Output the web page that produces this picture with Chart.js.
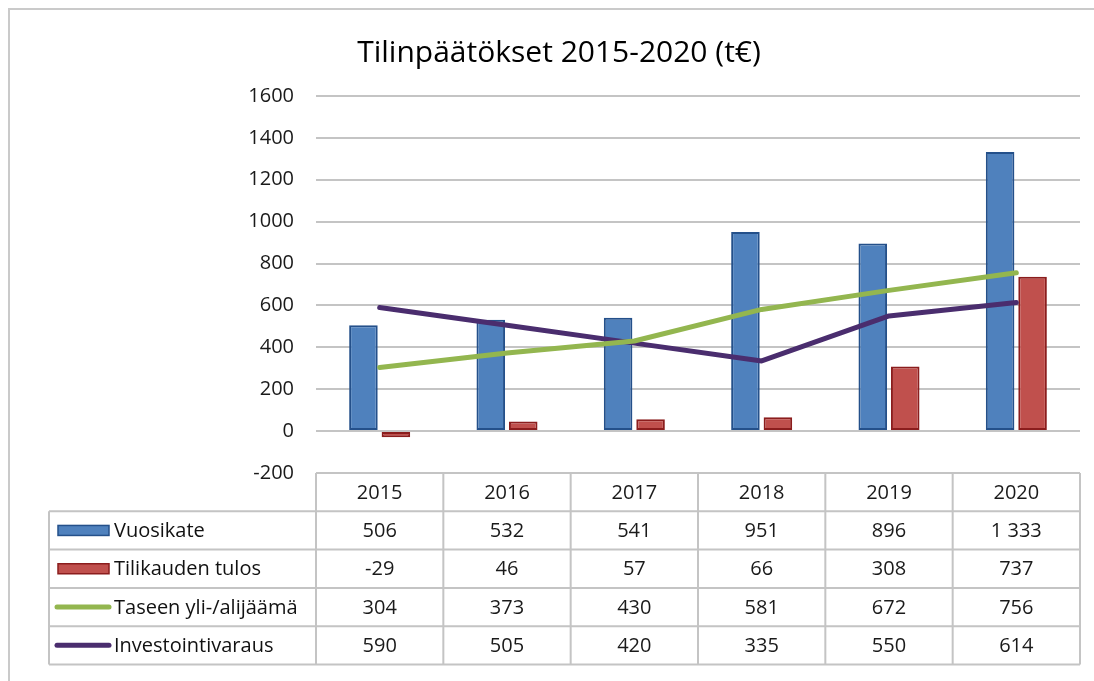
<!DOCTYPE html>
<html>
<head>
<meta charset="utf-8">
<title>Tilinpäätökset 2015-2020</title>
<script src="https://cdn.jsdelivr.net/npm/chart.js@4.4.1/dist/chart.umd.min.js"></script>
<style>
  html, body { margin: 0; padding: 0; background: #fff; }
  #wrap { width: 1094px; height: 681px; position: relative; }
</style>
</head>
<body>
<div id="wrap"><canvas id="chart" width="1094" height="681"></canvas></div>
<script>
// --- Datos del gráfico ---
const years = ['2015', '2016', '2017', '2018', '2019', '2020'];
const vuosikate = [506, 532, 541, 951, 896, 1333];
const tilikaudenTulos = [-29, 46, 57, 66, 308, 737];
const taseenYlijaama = [304, 373, 430, 581, 672, 756];
const investointivaraus = [590, 505, 420, 335, 550, 614];
const yTicks = [-200, 0, 200, 400, 600, 800, 1000, 1200, 1400, 1600];

const chartTitle = 'Tilinpäätökset 2015-2020 (t€)';
const FONT = '"Open Sans", "Noto Sans", sans-serif';
const GRID = '#c4c4c4';

const series = [
  { label: 'Vuosikate', data: vuosikate, kind: 'bar', color: '#4f81bd', border: '#24508a' },
  { label: 'Tilikauden tulos', data: tilikaudenTulos, kind: 'bar', color: '#c0504d', border: '#8b1d1d' },
  { label: 'Taseen yli-/alijäämä', data: taseenYlijaama, kind: 'line', color: '#93b64f' },
  { label: 'Investointivaraus', data: investointivaraus, kind: 'line', color: '#4a2d6e' }
];

// formato finlandés: espacio como separador de miles
function fmt(v){
  return String(v).replace(/\B(?=(\d{3})+(?!\d))/g, ' ');
}

// -------------------- Plugin: marco, título y tabla de datos --------------------
const tablePlugin = {
  id: 'dataTable',
  beforeDraw(chart){
    const ctx = chart.ctx;
    ctx.save();
    ctx.fillStyle = '#fff';
    ctx.fillRect(0, 0, chart.width, chart.height);
    // marco exterior
    ctx.strokeStyle = '#cacaca';
    ctx.lineWidth = 2;
    ctx.beginPath();
    ctx.moveTo(9, chart.height + 5);
    ctx.lineTo(9, 9);
    ctx.lineTo(chart.width + 5, 9);
    ctx.stroke();
    ctx.restore();
  },
  afterDraw(chart){
    const ctx = chart.ctx;
    const area = chart.chartArea;
    const x = chart.scales.x;
    const colW = (area.right - area.left) / years.length;
    const rowH = 38.3;
    const top = area.bottom;
    const left = 49;
    const bottom = top + rowH * (series.length + 1);

    ctx.save();
    // título
    ctx.fillStyle = '#000';
    ctx.font = '30px ' + FONT;
    ctx.textAlign = 'center';
    ctx.textBaseline = 'alphabetic';
    ctx.fillText(chartTitle, 559, 62);

    // líneas de la tabla
    ctx.strokeStyle = GRID;
    ctx.lineWidth = 2;
    ctx.beginPath();
    ctx.moveTo(area.left, top); ctx.lineTo(area.right, top);
    for (let r = 1; r <= series.length + 1; r++) {
      const yy = top + rowH * r;
      ctx.moveTo(left, yy); ctx.lineTo(area.right, yy);
    }
    for (let c = 0; c <= years.length; c++) {
      const xx = area.left + colW * c;
      ctx.moveTo(xx, top); ctx.lineTo(xx, bottom);
    }
    ctx.moveTo(left, top + rowH); ctx.lineTo(left, bottom);
    ctx.stroke();

    // cabecera con años
    ctx.font = '20px ' + FONT;
    ctx.fillStyle = '#1a1a1a';
    ctx.textAlign = 'center';
    ctx.textBaseline = 'middle';
    years.forEach((yr, i) => {
      ctx.fillText(yr, x.getPixelForValue(i), top + rowH / 2 + 1);
    });

    // filas: clave de leyenda, nombre y valores
    series.forEach((s, r) => {
      const cy = top + rowH * (r + 1) + rowH / 2;
      if (s.kind === 'bar') {
        ctx.fillStyle = s.color;
        ctx.strokeStyle = s.border;
        ctx.lineWidth = 1.5;
        ctx.fillRect(58, cy - 5, 51, 10);
        ctx.strokeRect(58, cy - 5, 51, 10);
      } else {
        ctx.strokeStyle = s.color;
        ctx.lineWidth = 5;
        ctx.lineCap = 'round';
        ctx.beginPath();
        ctx.moveTo(57, cy); ctx.lineTo(109, cy);
        ctx.stroke();
      }
      ctx.fillStyle = '#111';
      ctx.textAlign = 'left';
      ctx.fillText(s.label, 114, cy + 1);
      ctx.textAlign = 'center';
      ctx.fillStyle = '#1a1a1a';
      s.data.forEach((v, i) => {
        ctx.fillText(fmt(v), x.getPixelForValue(i), cy + 1);
      });
    });
    ctx.restore();
  }
};

// -------------------- Chart.js --------------------
const datasets = series.map(s => {
  if (s.kind === 'bar') {
    return {
      type: 'bar',
      label: s.label,
      data: s.data,
      backgroundColor: s.color,
      borderColor: s.border,
      borderWidth: 2,
      borderSkipped: false,
      categoryPercentage: 0.51,
      barPercentage: 0.88,
      order: 2
    };
  }
  return {
    type: 'line',
    label: s.label,
    data: s.data,
    borderColor: s.color,
    borderWidth: 5,
    borderCapStyle: 'round',
    borderJoinStyle: 'round',
    pointRadius: 0,
    tension: 0,
    fill: false,
    order: 1
  };
});

new Chart(document.getElementById('chart'), {
  type: 'bar',
  data: { labels: years, datasets },
  options: {
    responsive: false,
    animation: false,
    layout: { padding: { left: 0, right: 14, top: 96, bottom: 208 } },
    plugins: {
      legend: { display: false },
      title: { display: false },
      tooltip: { enabled: false }
    },
    scales: {
      x: { display: false },
      y: {
        min: yTicks[0],
        max: yTicks[yTicks.length - 1],
        afterFit(scale){ scale.width = 316; },
        afterBuildTicks(scale){ scale.ticks = yTicks.map(v => ({ value: v })); },
        border: { display: false },
        grid: { color: GRID, lineWidth: 2, drawTicks: false },
        ticks: {
          padding: 22,
          color: '#1a1a1a',
          font: { family: FONT, size: 20 },
          callback: (v) => String(v)
        }
      }
    }
  },
  plugins: [tablePlugin]
});
</script>
</body>
</html>
